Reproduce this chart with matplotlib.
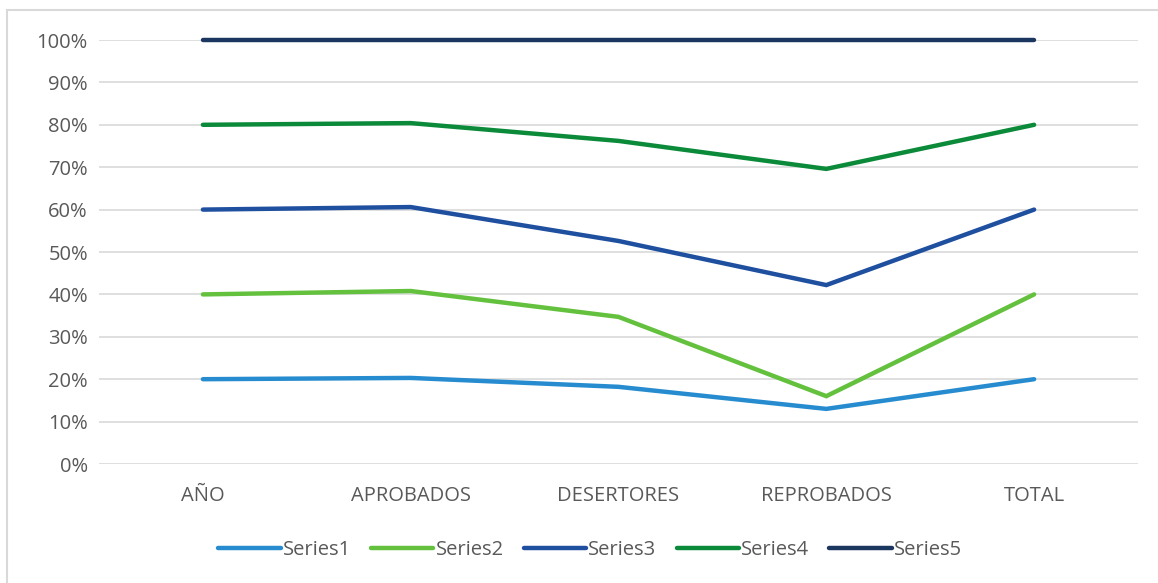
import matplotlib.pyplot as plt
from matplotlib.patches import Rectangle
from matplotlib.ticker import PercentFormatter

categorias = ['AÑO', 'APROBADOS', 'DESERTORES', 'REPROBADOS', 'TOTAL']

# valores acumulados (100% apilado)
series1 = [20.0, 20.3, 18.2, 13.0, 20.0]
series2 = [40.0, 40.8, 34.7, 16.0, 40.0]
series3 = [60.0, 60.6, 52.6, 42.2, 60.0]
series4 = [80.0, 80.4, 76.2, 69.6, 80.0]
series5 = [100.0, 100.0, 100.0, 100.0, 100.0]

nombres = ['Series1', 'Series2', 'Series3', 'Series4', 'Series5']
colores = ['#278ccf', '#64c13e', '#1f4f9f', '#0b8a3a', '#1b365f']

plt.rcParams['font.family'] = ['Open Sans', 'DejaVu Sans']

fig = plt.figure(figsize=(11.58, 5.83), dpi=100)
ax = fig.add_axes([99 / 1158, 1 - 464 / 583, (1138 - 99) / 1158, (464 - 40) / 583])

x = list(range(len(categorias)))
for datos, nombre, color in zip([series1, series2, series3, series4, series5], nombres, colores):
    ax.plot(x, datos, color=color, lw=3.2, solid_capstyle='round',
            solid_joinstyle='miter', label=nombre, zorder=3, clip_on=False)

ax.set_xlim(-0.5, len(categorias) - 0.5)
ax.set_ylim(0, 100)
ax.set_yticks(range(0, 101, 10))
ax.yaxis.set_major_formatter(PercentFormatter(decimals=0))
ax.set_xticks(x)
ax.set_xticklabels(categorias)
ax.grid(axis='y', color='#d9d9d9', lw=1.2)
ax.set_axisbelow(True)
for s in ax.spines.values():
    s.set_visible(False)
ax.tick_params(length=0, labelsize=14.5, colors='#595959', pad=8)
ax.tick_params(axis='x', pad=16)

leg = fig.legend(loc='center', bbox_to_anchor=(590 / 1158, 1 - 550 / 583), ncol=5,
                 frameon=False, fontsize=14.5, handlelength=3.1, handletextpad=0.1,
                 columnspacing=1.0)
for t in leg.get_texts():
    t.set_color('#595959')

fig.patches.append(Rectangle((7 / 1158, -0.05), 1.1, 1.05 - 10 / 583, transform=fig.transFigure,
                             fill=False, ec='#d9d9d9', lw=1.5))

fig.savefig('out.png', dpi=100)
